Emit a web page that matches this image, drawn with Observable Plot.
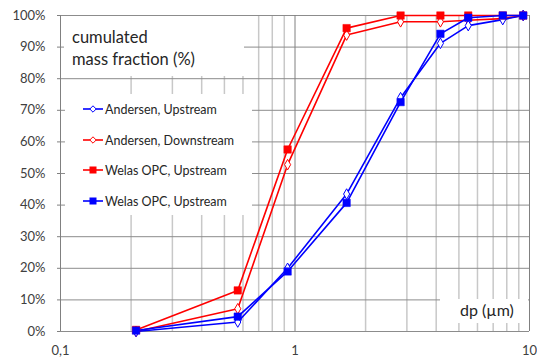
<!DOCTYPE html>
<html><head><meta charset="utf-8">
<script src="https://cdn.jsdelivr.net/npm/d3@7"></script>
<script src="https://cdn.jsdelivr.net/npm/@observablehq/plot@0.6"></script>
<style>
body{margin:0;background:#fff;}
#wrap{position:relative;width:537px;height:358px;font-family:Lato,"Open Sans",sans-serif;color:#262626;overflow:hidden;}
#wrap > svg{position:absolute;left:0;top:0;}
.box{position:absolute;background:#fff;}
.leg{position:absolute;left:83px;font-size:12.5px;white-space:nowrap;display:flex;align-items:center;}
.leg svg{display:block;margin-right:2px;}
</style></head><body><div id="wrap"></div>
<script>
// particle diameter dp (µm)
const dp = [0.21, 0.57, 0.93, 1.66, 2.82, 4.17, 5.48, 7.69, 9.4];
// cumulated mass fraction (%)
const andersenUp   = [0, 3.0, 20.0, 43.5, 74.0, 91.2, 96.8, 98.7, 100];
const andersenDown = [0, 7.2, 52.8, 93.8, 98.0, 98.0, 98.5, 99.0, 100];
const welasUpRed   = [0.5, 13.0, 57.6, 96.0, 100, 100, 100, 100, 100];
const welasUpBlue  = [0.3, 4.7, 19.0, 40.7, 72.6, 94.2, 99.3, 100, 100];
const seriesNames  = ["Andersen, Upstream", "Andersen, Downstream", "Welas OPC, Upstream", "Welas OPC, Upstream"];
const seriesColors = ["#0000ff", "#ff0000", "#ff0000", "#0000ff"];
const seriesOpen   = [true, true, false, false];
const yTicks = [0, 10, 20, 30, 40, 50, 60, 70, 80, 90, 100];
const xMajor = [0.1, 1, 10];
const xMajorLabels = ["0,1", "1", "10"];
const xMinor = [0.2, 0.3, 0.4, 0.5, 0.6, 0.7, 0.8, 0.9, 2, 3, 4, 5, 6, 7, 8, 9];
const titleLines = ["cumulated", "mass fraction (%)"];
const xTitle = "dp (µm)";

const allSeries = [andersenUp, andersenDown, welasUpRed, welasUpBlue];
const rows = [];
allSeries.forEach((vals, s) => vals.forEach((v, i) => rows.push({s, x: dp[i], y: v})));
// draw order: Andersen down, Andersen up, Welas red, Welas blue
const order = [1, 0, 2, 3];
const xLabelOf = d => xMajorLabels[xMajor.findIndex(t => Math.abs(t - d) < 1e-9)];

const marks = [
  Plot.ruleX(xMinor, {stroke: "#c8c8c8", strokeWidth: 1.5}),
  Plot.ruleY(yTicks, {stroke: "#8c8c8c", strokeWidth: 1}),
  Plot.ruleX(xMajor, {stroke: "#808080", strokeWidth: 1}),
  Plot.axisY({ticks: yTicks, tickFormat: d => d + "%", tickSize: 3, tickPadding: 12, stroke: "#808080", fill: "#404040", label: null}),
  Plot.axisX({ticks: xMajor, tickFormat: xLabelOf, tickSize: 0, tickPadding: 14, fill: "#404040", label: null})
];
for (const s of order) {
  const data = rows.filter(r => r.s === s);
  marks.push(Plot.line(data, {x: "x", y: "y", stroke: seriesColors[s], strokeWidth: 1.6}));
  if (seriesOpen[s]) {
    marks.push(Plot.dot(data, {x: "x", y: "y", symbol: "diamond", r: 3.2, fill: "#fff", stroke: seriesColors[s], strokeWidth: 1}));
  } else {
    marks.push(Plot.dot(data, {x: "x", y: "y", symbol: "square", r: 4.2, fill: seriesColors[s], stroke: seriesColors[s], strokeWidth: 0.5}));
  }
}

const chart = Plot.plot({
  width: 537, height: 358,
  marginLeft: 60, marginRight: 8, marginTop: 15, marginBottom: 27,
  style: {fontFamily: "Lato, 'Open Sans', sans-serif", fontSize: "13px", background: "#fff", overflow: "visible"},
  x: {type: "log", domain: [0.1, 10], label: null},
  y: {domain: [0, 100], label: null},
  marks
});

const wrap = document.getElementById("wrap");
wrap.appendChild(chart);

function box(l, t, w, h) {
  const d = document.createElement("div");
  d.className = "box";
  Object.assign(d.style, {left: l + "px", top: t + "px", width: w + "px", height: h + "px"});
  wrap.appendChild(d);
  return d;
}
// title box
const tb = box(64, 16, 180, 60);
tb.innerHTML = `<div style="position:absolute;left:8px;top:10px;font-size:16.5px;line-height:22px;color:#262626">${titleLines.join("<br>")}</div>`;
// legend box
box(65, 94, 187, 121);
const legY = [109, 140, 170, 201];
seriesNames.forEach((name, s) => {
  const d = document.createElement("div");
  d.className = "leg";
  d.style.top = (legY[s] - 9) + "px";
  d.style.height = "18px";
  const c = seriesColors[s];
  const sym = seriesOpen[s]
    ? `<path d="M10,5.8 L13.2,9 L10,12.2 L6.8,9 Z" fill="#fff" stroke="${c}" stroke-width="1"/>`
    : `<rect x="6.5" y="5.5" width="7" height="7" fill="${c}"/>`;
  d.innerHTML = `<svg width="20" height="18"><line x1="0" x2="20" y1="9" y2="9" stroke="${c}" stroke-width="1.6"/>${sym}</svg><span>${name}</span>`;
  wrap.appendChild(d);
});
// x-axis title box
const xb = box(440, 299, 88, 24);
xb.innerHTML = `<div style="position:absolute;left:20px;top:1px;font-size:16px;color:#262626">${xTitle}</div>`;
</script>
</body></html>
